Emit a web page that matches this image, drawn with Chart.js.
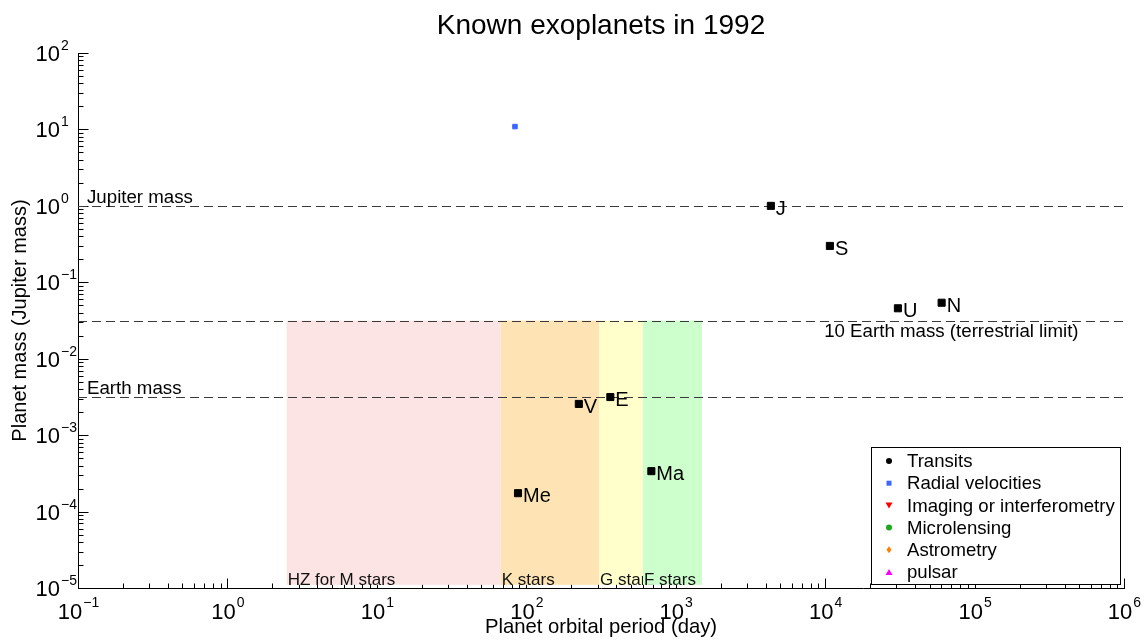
<!DOCTYPE html>
<html>
<head>
<meta charset="utf-8">
<title>Known exoplanets in 1992</title>
<script src="https://cdn.jsdelivr.net/npm/chart.js@4.4.1/dist/chart.umd.min.js"></script>
<style>
  html, body { margin: 0; padding: 0; background: #fff; }
</style>
</head>
<body>
<canvas id="planets" width="1145" height="640"></canvas>
<script>
// discovery methods (legend order) and what had been found by 1992
const methods = ['Transits', 'Radial velocities', 'Imaging or interferometry', 'Microlensing', 'Astrometry', 'pulsar'];
const methodColors = ['#000000', '#3c64ff', '#ff0000', '#1caa1c', '#ff8000', '#ff00ff'];
const methodShapes = ['circle', 'rect', 'triangleDown', 'circle', 'diamond', 'triangle'];
const methodPeriods = [[], [84.0], [], [], [], []];
const methodMasses = [[], [10.9], [], [], [], []];

// solar system planets for reference
const planetNames = ['Me', 'V', 'E', 'Ma', 'J', 'S', 'U', 'N'];
const planetPeriods = [88.0, 224.7, 365.25, 687.0, 4332.6, 10759, 30687, 60190];
const planetMasses = [0.000174, 0.00256, 0.00315, 0.000338, 1.0, 0.299, 0.0457, 0.054];

// horizontal reference masses
const refNames = ['Jupiter mass', '10 Earth mass (terrestrial limit)', 'Earth mass'];
const refMasses = [1.0, 0.0315, 0.00315];

// habitable zone bands (orbital period, day)
const zoneNames = ['HZ for M stars', 'K stars', 'G stars', 'F stars'];
const zoneStart = [2.49, 67.5, 307, 604];
const zoneEnd = [67.5, 307, 604, 1496];
const zoneColors = ['#fde4e4', '#fee4b4', '#ffffcc', '#ccffcc'];
const zoneMassMin = 1.1e-5;
const zoneMassMax = 0.0315;

// decade tick labels
const xTickExps = [-1, 0, 1, 2, 3, 4, 5, 6];
const yTickExps = [-5, -4, -3, -2, -1, 0, 1, 2];

const FONT = '"Liberation Sans", Arial, Helvetica, sans-serif';

function expText(e) {
    return e < 0 ? '\u2212' + (-e) : String(e);
}

function drawMarker(ctx, shape, x, y, color) {
    ctx.fillStyle = color;
    ctx.beginPath();
    if (shape === 'circle') {
        ctx.arc(x, y, 3, 0, Math.PI * 2);
    } else if (shape === 'rect') {
        ctx.rect(x - 2.5, y - 2.5, 5, 5);
    } else if (shape === 'triangleDown') {
        ctx.moveTo(x - 3.5, y - 3); ctx.lineTo(x + 3.5, y - 3); ctx.lineTo(x, y + 3);
    } else if (shape === 'triangle') {
        ctx.moveTo(x - 3.5, y + 3); ctx.lineTo(x + 3.5, y + 3); ctx.lineTo(x, y - 3);
    } else if (shape === 'diamond') {
        ctx.moveTo(x, y - 3.5); ctx.lineTo(x + 2.5, y); ctx.lineTo(x, y + 3.5); ctx.lineTo(x - 2.5, y);
    }
    ctx.closePath();
    ctx.fill();
}

// inward minor/major ticks, drawn first so the bands sit over them
function drawTicks(chart) {
    const {ctx, chartArea: a, scales: {x, y}} = chart;
    ctx.save();
    ctx.strokeStyle = '#000';
    ctx.lineWidth = 1;
    ctx.beginPath();
    const ax = Math.round(a.left) + 0.5, ay = Math.round(a.bottom) + 0.5;
    for (let e = xTickExps[0]; e <= xTickExps[xTickExps.length - 1]; e++) {
        for (let k = 1; k <= 9; k++) {
            const v = k * Math.pow(10, e);
            if (v > x.max * 1.0001) break;
            const px = Math.round(x.getPixelForValue(v)) + 0.5;
            ctx.moveTo(px, ay);
            ctx.lineTo(px, ay - (k === 1 ? 10 : 5));
        }
    }
    for (let e = yTickExps[0]; e <= yTickExps[yTickExps.length - 1]; e++) {
        for (let k = 1; k <= 9; k++) {
            const v = k * Math.pow(10, e);
            if (v > y.max * 1.0001) break;
            const py = Math.round(y.getPixelForValue(v)) + 0.5;
            ctx.moveTo(ax, py);
            ctx.lineTo(ax + (k === 1 ? 10 : 5), py);
        }
    }
    ctx.stroke();
    ctx.restore();
}

// star bands and dashed mass lines, under the points
const backdrop = {
    id: 'backdrop',
    beforeDatasetsDraw(chart) {
        drawTicks(chart);
        const {ctx, chartArea: a, scales: {x, y}} = chart;
        ctx.save();
        const top = y.getPixelForValue(zoneMassMax);
        const bottom = y.getPixelForValue(zoneMassMin);
        ctx.font = '17px ' + FONT;
        ctx.textBaseline = 'alphabetic';
        zoneNames.forEach((name, i) => {
            const x1 = x.getPixelForValue(zoneStart[i]);
            const x2 = x.getPixelForValue(zoneEnd[i]);
            ctx.fillStyle = zoneColors[i];
            ctx.fillRect(x1, top, x2 - x1, bottom - top);
            ctx.fillStyle = '#111';
            ctx.fillText(name, x1 + 1, bottom);
        });

        ctx.strokeStyle = '#3a3a3a';
        ctx.lineWidth = 1.2;
        ctx.setLineDash([9, 5]);
        ctx.font = '18.7px ' + FONT;
        refMasses.forEach((m, i) => {
            const py = Math.round(y.getPixelForValue(m)) + 0.5;
            ctx.beginPath();
            ctx.moveTo(a.left, py);
            ctx.lineTo(a.right, py);
            ctx.stroke();
            ctx.fillStyle = '#000';
            if (i === 1) {
                ctx.fillText(refNames[i], x.getPixelForValue(1e4) - 1, py + 15);
            } else {
                ctx.fillText(refNames[i], a.left + 9, py - 4);
            }
        });
        ctx.restore();
    },
    afterDatasetsDraw(chart) {
        const {ctx} = chart;
        const meta = chart.getDatasetMeta(methods.length);
        ctx.save();
        ctx.font = '20px ' + FONT;
        ctx.fillStyle = '#000';
        ctx.textBaseline = 'alphabetic';
        meta.data.forEach((pt, i) => {
            ctx.fillText(planetNames[i], pt.x + 5, pt.y + 9);
        });
        ctx.restore();
    }
};

// title, legend box and 10^n labels
const frame = {
    id: 'frame',
    afterDraw(chart) {
        const {ctx, chartArea: a, scales: {x, y}} = chart;
        ctx.save();

        ctx.fillStyle = '#000';
        ctx.font = '28px ' + FONT;
        ctx.textAlign = 'center';
        ctx.textBaseline = 'middle';
        ctx.fillText('Known exoplanets in 1992', (a.left + a.right) / 2, 26);

        // legend
        const w = 249, h = 137, rowH = 22.2;
        const lx = a.right - 4 - w, ly = a.bottom - 4 - h;
        ctx.fillStyle = '#fff';
        ctx.fillRect(lx, ly, w, h);
        ctx.strokeStyle = '#000';
        ctx.lineWidth = 1;
        ctx.strokeRect(lx + 0.5, ly + 0.5, w, h);
        ctx.font = '18.6px ' + FONT;
        ctx.textAlign = 'left';
        methods.forEach((m, i) => {
            const cy = ly + 14 + i * rowH;
            drawMarker(ctx, methodShapes[i], lx + 18, cy, methodColors[i]);
            ctx.fillStyle = '#000';
            ctx.fillText(m, lx + 36, cy + 1);
        });

        // tick labels
        ctx.fillStyle = '#000';
        ctx.textBaseline = 'alphabetic';
        xTickExps.forEach(e => {
            const px = x.getPixelForValue(Math.pow(10, e));
            ctx.font = '22px ' + FONT;
            const w1 = ctx.measureText('10').width;
            ctx.font = '14px ' + FONT;
            const w2 = ctx.measureText(expText(e)).width;
            const sx = px - (w1 + w2) / 2;
            ctx.font = '22px ' + FONT;
            ctx.fillText('10', sx, a.bottom + 31);
            ctx.font = '14px ' + FONT;
            ctx.fillText(expText(e), sx + w1 + 1, a.bottom + 19);
        });
        yTickExps.forEach(e => {
            const py = y.getPixelForValue(Math.pow(10, e));
            ctx.font = '22px ' + FONT;
            ctx.textAlign = 'right';
            ctx.fillText('10', a.left - 18, py + 8);
            ctx.font = '14px ' + FONT;
            ctx.textAlign = 'left';
            ctx.fillText(expText(e), a.left - 17, py - 3);
        });
        ctx.restore();
    }
};

const datasets = methods.map((m, i) => ({
    label: m,
    data: methodPeriods[i].map((p, j) => ({x: p, y: methodMasses[i][j]})),
    backgroundColor: methodColors[i],
    borderColor: methodColors[i],
    borderWidth: 1,
    pointStyle: i === 4 ? 'rectRot' : (methodShapes[i] === 'triangleDown' ? 'triangle' : methodShapes[i]),
    rotation: methodShapes[i] === 'triangleDown' ? 180 : 0,
    pointRadius: 3.2
}));

datasets.push({
    label: 'Solar system',
    data: planetPeriods.map((p, i) => ({x: p, y: planetMasses[i]})),
    backgroundColor: '#000',
    borderColor: '#000',
    borderWidth: 1,
    pointStyle: 'rect',
    pointRadius: 5
});

const ctx = document.getElementById('planets').getContext('2d');
const chart = new Chart(ctx, {
    type: 'scatter',
    data: { datasets: datasets },
    options: {
        responsive: false,
        animation: false,
        devicePixelRatio: 1,
        layout: { padding: { top: 53, right: 21, left: 0, bottom: 0 } },
        plugins: {
            legend: { display: false },
            tooltip: { enabled: false },
            title: { display: false }
        },
        scales: {
            x: {
                type: 'logarithmic',
                min: 0.1,
                max: 1e6,
                grid: { display: true, drawOnChartArea: false, drawTicks: false },
                border: { display: true, color: '#000', width: 1 },
                ticks: { display: false },
                title: {
                    display: true,
                    text: 'Planet orbital period (day)',
                    color: '#000',
                    font: { family: FONT, size: 20.3 },
                    padding: { top: 0, bottom: 0 }
                },
                afterFit: scale => { scale.height = 52; }
            },
            y: {
                type: 'logarithmic',
                min: 1e-5,
                max: 100,
                grid: { display: true, drawOnChartArea: false, drawTicks: false },
                border: { display: true, color: '#000', width: 1 },
                ticks: { display: false },
                title: {
                    display: true,
                    text: 'Planet mass (Jupiter mass)',
                    color: '#000',
                    font: { family: FONT, size: 20 },
                    padding: { top: 8, bottom: 0 }
                },
                afterFit: scale => { scale.width = 78; }
            }
        }
    },
    plugins: [backdrop, frame]
});
</script>
</body>
</html>
